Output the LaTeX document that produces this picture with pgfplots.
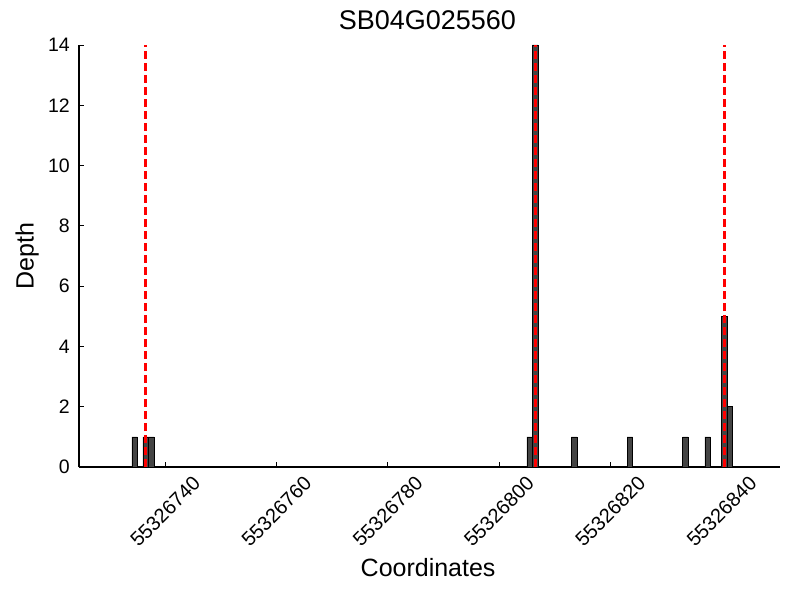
\documentclass[border=0pt]{standalone}
\usepackage{pgfplots}
\pgfplotsset{compat=1.18}
\usepackage{fontspec}
\setmainfont{Liberation Sans}
\definecolor{barfill}{RGB}{68,68,68}
\begin{document}
\begin{tikzpicture}[x=1pt,y=1pt]
\path[use as bounding box] (0,0) rectangle (800,600);
\begin{axis}[
  at={(79pt,133pt)}, anchor=south west,
  scale only axis, width=701pt, height=422pt,
  xmin=24.5, xmax=150.5, ymin=0, ymax=14,
  axis x line=bottom, axis y line=left,
  axis line style={-, black, line width=1.2pt},
  every tick/.style={black, line width=0.8pt},
  major tick length=5pt,
  tick align=inside,
  xtick={40,60,80,100,120,140},
  xticklabels={\rotatebox{45}{55326740},\rotatebox{45}{55326760},\rotatebox{45}{55326780},\rotatebox{45}{55326800},\rotatebox{45}{55326820},\rotatebox{45}{55326840}},
  xticklabel style={anchor=north, font=\fontsize{20}{22}\selectfont, inner sep=0pt, yshift=-8pt},
  ytick={0,2,4,6,8,10,12,14},
  yticklabel style={font=\fontsize{19.5}{22}\selectfont, inner sep=0pt, xshift=-9pt},
  /pgf/number format/assume math mode=true,
  title={SB04G025560},
  title style={font=\fontsize{27}{30}\selectfont, at={(axis description cs:0.497,1.044)}, anchor=center, inner sep=0pt},
  xlabel={Coordinates},
  xlabel style={font=\fontsize{25}{28}\selectfont, at={(axis description cs:0.498,-0.239)}, anchor=center, inner sep=0pt},
  ylabel={Depth},
  ylabel style={font=\fontsize{25}{28}\selectfont, at={(axis description cs:-0.074,0.5)}, anchor=center, rotate=0, inner sep=0pt},
  clip=false,
]
\addplot[ybar, bar width=1, bar shift=0pt, fill=barfill, draw=black, line width=0.7pt] coordinates {
  (34.5,1) (36.5,1) (37.5,1) (105.5,1) (106.5,14) (113.5,1) (123.5,1) (133.5,1) (137.5,1) (140.5,5) (141.5,2)
};
\addplot[red, line width=2.6pt, dash pattern=on 8pt off 4pt] coordinates {(36.5,0) (36.5,14)};
\addplot[red, line width=2.6pt, dash pattern=on 8pt off 4pt] coordinates {(106.5,0) (106.5,14)};
\addplot[red, line width=2.6pt, dash pattern=on 8pt off 4pt] coordinates {(140.5,0) (140.5,14)};
\end{axis}
\end{tikzpicture}
\end{document}
